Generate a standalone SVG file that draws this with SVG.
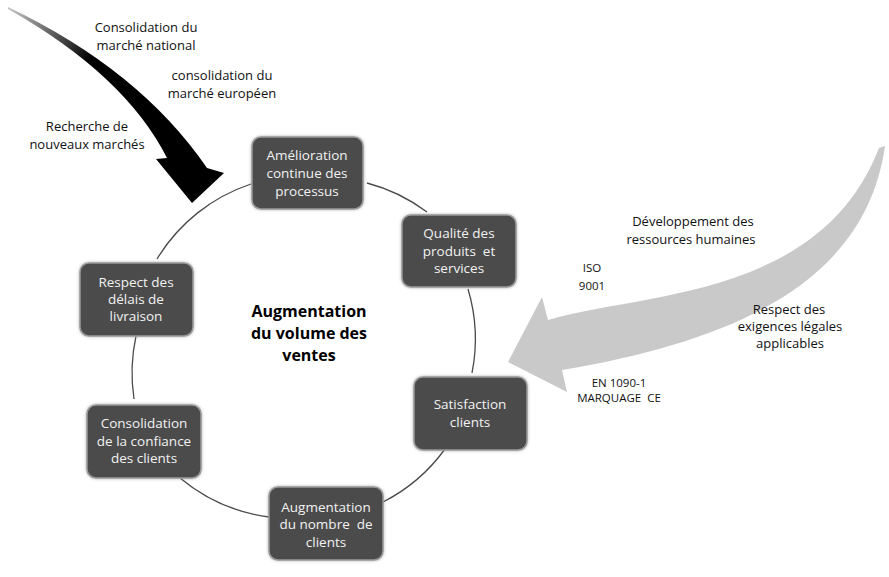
<svg xmlns="http://www.w3.org/2000/svg" width="889" height="577" viewBox="0 0 889 577">
  <style>
    .box { fill: #4b4b4b; stroke: #9a9a9a; stroke-width: 1.5; filter: url(#glow); }
    .bt { font-family: "Open Sans", "Noto Sans", sans-serif; font-size: 13.5px; fill: #f2f2f2; text-anchor: middle; }
    .lbl { font-family: "Open Sans", "Noto Sans", sans-serif; font-size: 13px; fill: #111; text-anchor: middle; }
    .sm { font-family: "Open Sans", "Noto Sans", sans-serif; font-size: 11.5px; fill: #111; text-anchor: middle; }
    .ctr { font-family: "Open Sans", "Noto Sans", sans-serif; font-size: 16px; font-weight: bold; fill: #000; text-anchor: middle; }
    .conn { fill: none; stroke: #4a4a4a; stroke-width: 1.3; }
  </style>
  <defs>
    <filter id="glow" x="-20%" y="-20%" width="140%" height="140%">
      <feGaussianBlur in="SourceAlpha" stdDeviation="1.8" result="b"/>
      <feFlood flood-color="#888" flood-opacity="0.7"/>
      <feComposite in2="b" operator="in" result="s"/>
      <feMerge><feMergeNode in="s"/><feMergeNode in="SourceGraphic"/></feMerge>
    </filter>
    <linearGradient id="tail" gradientUnits="userSpaceOnUse" x1="8" y1="8" x2="90" y2="60">
      <stop offset="0" stop-color="#c8c8c8"/>
      <stop offset="1" stop-color="#000"/>
    </linearGradient>
  </defs>
  <rect width="889" height="577" fill="#fff"/>

  <g id="connectors">
    <path class="conn" d="M367,183 A174,174 0 0 1 427,212"/>
    <path class="conn" d="M468,289 A174,174 0 0 1 472,373"/>
    <path class="conn" d="M445,449 A174,174 0 0 1 383,502"/>
    <path class="conn" d="M269,517 A174,174 0 0 1 180,478"/>
    <path class="conn" d="M134,399 A174,174 0 0 1 136,336"/>
    <path class="conn" d="M157,259 A174,174 0 0 1 251,184"/>
  </g>

  <g id="arrows">
    <path id="black-arrow" d="M8,7 Q140,70 207,168 L224,173 L192,203 L156,159 L167,158 Q125,75 8,9 Z" fill="url(#tail)"/>
    <path id="grey-arrow" d="M548,320 C640,292 820,300 879,148 L885,146 C866,280 740,340 562,370 L567,392 L508,362 L542,297 Z" fill="#c9c9c9"/>
  </g>

  <g id="labels">
    <text class="lbl" x="146" y="32">Consolidation du</text>
    <text class="lbl" x="146" y="50">marché national</text>
    <text class="lbl" x="222" y="80">consolidation du</text>
    <text class="lbl" x="222" y="98">marché européen</text>
    <text class="lbl" x="87" y="131">Recherche de</text>
    <text class="lbl" x="87" y="149">nouveaux marchés</text>
    <text class="lbl" x="693" y="226">Développement des</text>
    <text class="lbl" x="691" y="244">ressources humaines</text>
    <text class="sm" x="592" y="272">ISO</text>
    <text class="sm" x="592" y="290">9001</text>
    <text class="lbl" x="789" y="314">Respect des</text>
    <text class="lbl" x="790" y="331">exigences légales</text>
    <text class="lbl" x="790" y="348">applicables</text>
    <text class="sm" x="619" y="387">EN 1090-1</text>
    <text class="sm" x="619" y="402">MARQUAGE&#160; CE</text>
  </g>

  <g id="center">
    <text class="ctr" x="309" y="317">Augmentation</text>
    <text class="ctr" x="309" y="339">du volume des</text>
    <text class="ctr" x="309" y="361">ventes</text>
  </g>

  <g id="n-amelioration">
    <rect class="box" x="252" y="137" width="111" height="72" rx="9"/>
    <text class="bt" x="307" y="160">Amélioration</text>
    <text class="bt" x="307" y="178">continue des</text>
    <text class="bt" x="307" y="196">processus</text>
  </g>
  <g id="n-qualite">
    <rect class="box" x="402" y="215" width="114" height="72" rx="9"/>
    <text class="bt" x="459" y="238">Qualité des</text>
    <text class="bt" x="459" y="256">produits&#160; et</text>
    <text class="bt" x="459" y="273">services</text>
  </g>
  <g id="n-satisfaction">
    <rect class="box" x="414" y="377" width="113" height="73" rx="9"/>
    <text class="bt" x="470" y="409">Satisfaction</text>
    <text class="bt" x="470" y="427">clients</text>
  </g>
  <g id="n-augmentation">
    <rect class="box" x="269" y="487" width="114" height="73" rx="9"/>
    <text class="bt" x="326" y="512">Augmentation</text>
    <text class="bt" x="326" y="529">du nombre&#160; de</text>
    <text class="bt" x="326" y="547">clients</text>
  </g>
  <g id="n-confiance">
    <rect class="box" x="87" y="405" width="114" height="73" rx="9"/>
    <text class="bt" x="144" y="428">Consolidation</text>
    <text class="bt" x="144" y="446">de la confiance</text>
    <text class="bt" x="144" y="463">des clients</text>
  </g>
  <g id="n-delais">
    <rect class="box" x="80" y="263" width="113" height="73" rx="9"/>
    <text class="bt" x="136" y="287">Respect des</text>
    <text class="bt" x="136" y="304">délais de</text>
    <text class="bt" x="136" y="321">livraison</text>
  </g>
</svg>
